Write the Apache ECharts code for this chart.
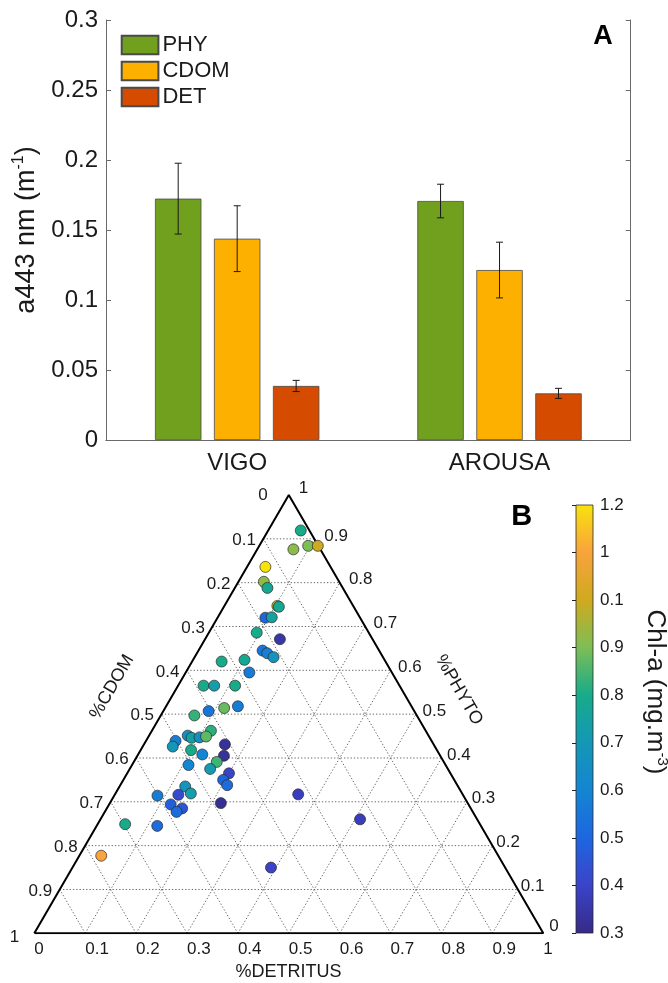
<!DOCTYPE html>
<html><head><meta charset="utf-8">
<script src="https://cdn.jsdelivr.net/npm/echarts/dist/echarts.min.js"></script>
<style>html,body{margin:0;padding:0;background:#fff}#c{width:668px;height:983px}</style>
</head><body><div id="c"></div>
<script>
// ---------- Panel A data ----------
const categories = ['VIGO', 'AROUSA'];
const seriesNames = ['PHY', 'CDOM', 'DET'];
const phyMean  = [0.1724, 0.1707];
const phyErr   = [0.0253, 0.0120];
const cdomMean = [0.1438, 0.1214];
const cdomErr  = [0.0235, 0.0199];
const detMean  = [0.0386, 0.0333];
const detErr   = [0.0040, 0.0036];

// ---------- Panel B data (ternary fractions, Chl-a) ----------
const pctPhyto = [0.919,0.876,0.884,0.884,0.836,0.802,0.788,0.747,0.745,0.720,
  0.721,0.686,0.671,0.645,0.639,0.630,0.620,0.624,0.595,0.565,
  0.565,0.565,0.514,0.518,0.507,0.497,0.462,0.439,0.426,0.451,
  0.446,0.447,0.449,0.418,0.408,0.431,0.405,0.391,0.384,0.375,
  0.365,0.350,0.338,0.335,0.319,0.316,0.314,0.294,0.285,0.277,
  0.297,0.317,0.260,0.249,0.245,0.177,0.150];
const pctDetritus = [0.064,0.071,0.096,0.115,0.036,0.050,0.064,0.104,0.108,0.094,
  0.106,0.094,0.147,0.126,0.138,0.155,0.058,0.101,0.125,0.050,
  0.071,0.112,0.116,0.141,0.089,0.066,0.116,0.058,0.059,0.076,
  0.086,0.101,0.113,0.099,0.126,0.159,0.170,0.163,0.111,0.158,
  0.200,0.196,0.210,0.129,0.148,0.125,0.085,0.121,0.148,0.141,
  0.218,0.360,0.510,0.054,0.119,0.043,0.390];
const chla = [0.80,0.92,0.90,1.00,1.20,0.92,0.78,0.98,0.78,0.50,
  0.75,0.80,0.35,0.55,0.58,0.68,0.80,0.78,0.57,0.80,
  0.73,0.80,0.88,0.57,0.55,0.83,0.82,0.58,0.70,0.65,
  0.75,0.65,0.87,0.80,0.60,0.33,0.33,0.84,0.60,0.72,
  0.40,0.50,0.52,0.68,0.73,0.42,0.58,0.48,0.45,0.52,
  0.32,0.38,0.38,0.80,0.52,1.10,0.40];

const ternTicks = [0,0.1,0.2,0.3,0.4,0.5,0.6,0.7,0.8,0.9,1];
const ternTickLabels = ['0','0.1','0.2','0.3','0.4','0.5','0.6','0.7','0.8','0.9','1'];
const cbTicks = [0.3,0.4,0.5,0.6,0.7,0.8,0.9,1.0,1.1,1.2];
const cbLabels = ['0.3','0.4','0.5','0.6','0.7','0.8','0.9','0.1','1','1.2'];
const cbColors = ['#352A87','#3B43C9','#1E66E0','#1485D2','#1497B6','#17AB8A','#7DBE55','#CFAA1F','#F8A33C','#F9E20C'];

// ---------- styling ----------
const FF = "'Liberation Sans', Arial, Helvetica, sans-serif";
const TXT = '#1a1a1a';
const AX = '#6a6a6a';
const barColors = ['#71A01F', '#FDB000', '#D54C00'];
const BAR_W = 0.177, BAR_GAP = 0.27;

const means = [phyMean, cdomMean, detMean];
const errs = [phyErr, cdomErr, detErr];

const errData = [];
for (let s = 0; s < 3; s++) for (let c = 0; c < categories.length; c++) errData.push([c, means[s][c], errs[s][c], s]);

// ternary grid lines
const gridLines = [];
ternTicks.slice(1, -1).forEach(k => {
  gridLines.push([k / 2, k, 1 - k / 2, k]);
  gridLines.push([k, 0, (1 + k) / 2, 1 - k]);
  gridLines.push([1 - k, 0, (1 - k) / 2, 1 - k]);
});

// ternary tick labels
const ternLabels = [];
ternTicks.forEach((k, i) => {
  const t = ternTickLabels[i];
  ternLabels.push({pos: [k, 0], text: t, dx: 0, dy: 16, align: 'left'});
  let dxL = -7.5, dyL = 1.5;
  if (i === 0) { dxL = -21; dyL = 0; }
  if (i === ternTicks.length - 1) { dxL = -15; dyL = 4; }
  ternLabels.push({pos: [(1 - k) / 2, 1 - k], text: t, dx: dxL, dy: dyL, align: 'right'});
  let dxR = 2 + 9 * k, dyR = -3;
  if (i === 0) { dxR = 6; dyR = -7; }
  if (i === ternTicks.length - 1) { dxR = 10; dyR = -7; }
  ternLabels.push({pos: [1 - k / 2, k], text: t, dx: dxR, dy: dyR, align: 'left'});
});

const scatterData = pctPhyto.map((p, i) => [pctDetritus[i] + p / 2, p, chla[i]]);

const chart = echarts.init(document.getElementById('c'), null, {renderer: 'canvas'});

const barSeries = seriesNames.map((n, s) => ({
  name: n, type: 'bar', xAxisIndex: 0, yAxisIndex: 0,
  data: means[s], barWidth: (BAR_W * 100) + '%', barGap: (BAR_GAP * 100) + '%',
  itemStyle: {color: barColors[s], borderColor: '#4a4a4a', borderWidth: 0.8},
  emphasis: {disabled: true}, silent: true
}));

const option = {
  animation: false,
  backgroundColor: '#fff',
  textStyle: {fontFamily: FF},
  grid: [
    {left: 106, top: 20, width: 524.7, height: 420},
    {left: 34.3, top: 495, width: 509, height: 438.3},
    {left: 576, top: 505, width: 17, height: 428}
  ],
  legend: {
    data: seriesNames, orient: 'vertical', left: 120.7, top: 34, padding: 0,
    itemWidth: 36.7, itemHeight: 18.3, itemGap: 4, icon: 'rect',
    textStyle: {fontSize: 22, color: TXT, fontFamily: FF, padding: [0, 0, 0, -1]},
    selectedMode: false
  },
  xAxis: [
    {type: 'category', gridIndex: 0, data: categories, position: 'bottom',
     axisLine: {lineStyle: {color: AX, width: 1}},
     axisTick: {inside: true, alignWithLabel: true, length: 5, lineStyle: {color: AX}},
     axisLabel: {fontSize: 24, color: TXT, margin: 11, fontFamily: FF}},
    {type: 'category', gridIndex: 0, data: categories, position: 'top',
     axisLine: {lineStyle: {color: AX, width: 1}},
     axisTick: {inside: true, alignWithLabel: true, length: 5, lineStyle: {color: AX}},
     axisLabel: {show: false}},
    {type: 'value', gridIndex: 1, min: 0, max: 1, show: false},
    {type: 'value', gridIndex: 2, min: 0, max: 1, show: false}
  ],
  yAxis: [
    {type: 'value', gridIndex: 0, min: 0, max: 0.3, interval: 0.05,
     name: '{n|a443 nm (m}{s|-1}{n|)}', nameLocation: 'middle', nameGap: 58, nameRotate: 90,
     nameTextStyle: {rich: {n: {fontSize: 27, color: TXT, fontFamily: FF, lineHeight: 32},
                            s: {fontSize: 16, color: TXT, fontFamily: FF, verticalAlign: 'top', lineHeight: 19}}},
     axisLine: {show: true, lineStyle: {color: AX, width: 1}},
     axisTick: {show: true, inside: true, length: 5, lineStyle: {color: AX}},
     axisLabel: {fontSize: 24, color: TXT, margin: 8, fontFamily: FF},
     splitLine: {show: false}},
    {type: 'value', gridIndex: 0, min: 0, max: 0.3, interval: 0.05, position: 'right',
     axisLine: {show: true, lineStyle: {color: AX, width: 1}},
     axisTick: {show: true, inside: true, length: 5, lineStyle: {color: AX}},
     axisLabel: {show: false}, splitLine: {show: false}},
    {type: 'value', gridIndex: 1, min: 0, max: 1, show: false},
    {type: 'value', gridIndex: 2, min: 0.3, max: 1.2, interval: 0.1, position: 'right',
     axisLine: {show: false},
     axisTick: {show: true, inside: true, length: 4, lineStyle: {color: '#222', width: 1}},
     axisLabel: {fontSize: 17, color: TXT, margin: 7, fontFamily: FF,
                 formatter: v => cbLabels[Math.round((v - 0.3) * 10)]},
     splitLine: {show: false}}
  ],
  visualMap: {
    show: false, type: 'continuous', min: 0.3, max: 1.2, dimension: 2, seriesIndex: 6,
    inRange: {color: cbColors}
  },
  series: [
    ...barSeries,
    { // error bars
      type: 'custom', xAxisIndex: 0, yAxisIndex: 0, data: errData, z: 5, silent: true,
      renderItem: (params, api) => {
        const ci = api.value(0), v = api.value(1), e = api.value(2), si = api.value(3);
        const band = api.size([1, 0])[0];
        const bw = band * BAR_W, gap = bw * BAR_GAP;
        const off = (si - 1) * (bw + gap);
        const pt = api.coord([ci, v + e]), pb = api.coord([ci, v - e]);
        const x = pt[0] + off, cw = 3.5;
        const st = {stroke: '#1a1a1a', lineWidth: 1};
        return {type: 'group', children: [
          {type: 'line', shape: {x1: x, y1: pt[1], x2: x, y2: pb[1]}, style: st},
          {type: 'line', shape: {x1: x - cw, y1: pt[1], x2: x + cw, y2: pt[1]}, style: st},
          {type: 'line', shape: {x1: x - cw, y1: pb[1], x2: x + cw, y2: pb[1]}, style: st}
        ]};
      }
    },
    { // ternary dotted grid
      type: 'custom', xAxisIndex: 2, yAxisIndex: 2, data: gridLines, silent: true, z: 1,
      renderItem: (params, api) => {
        const p1 = api.coord([api.value(0), api.value(1)]);
        const p2 = api.coord([api.value(2), api.value(3)]);
        return {type: 'line', shape: {x1: p1[0], y1: p1[1], x2: p2[0], y2: p2[1]},
                style: {stroke: '#666', lineWidth: 1, lineDash: [1.3, 2]}};
      }
    },
    { // triangle frame
      type: 'line', xAxisIndex: 2, yAxisIndex: 2, data: [[0, 0], [1, 0], [0.5, 1], [0, 0]],
      symbol: 'none', lineStyle: {color: '#000', width: 2}, silent: true, z: 2
    },
    { // points
      type: 'scatter', xAxisIndex: 2, yAxisIndex: 2, data: scatterData, symbolSize: 11, z: 4,
      itemStyle: {borderColor: '#2a2a2a', borderWidth: 0.7, opacity: 1}, silent: true
    },
    { // ternary tick labels
      type: 'custom', xAxisIndex: 2, yAxisIndex: 2, data: ternLabels.map(l => l.pos), silent: true, z: 3,
      renderItem: (params, api) => {
        const l = ternLabels[params.dataIndex];
        const p = api.coord([api.value(0), api.value(1)]);
        return {type: 'text', x: p[0] + l.dx, y: p[1] + l.dy,
                style: {text: l.text, fill: TXT, fontSize: 17, fontFamily: FF, align: l.align, verticalAlign: 'middle'}};
      }
    },
    { // colorbar
      type: 'custom', xAxisIndex: 3, yAxisIndex: 3, data: [[0, cbTicks[cbTicks.length - 1], 1, cbTicks[0]]], silent: true, z: 1,
      renderItem: (params, api) => {
        const a = api.coord([api.value(0), api.value(1)]);
        const b = api.coord([api.value(2), api.value(3)]);
        const stops = cbColors.map((c, i) => ({offset: 1 - i / (cbColors.length - 1), color: c}));
        stops.sort((m, n) => m.offset - n.offset);
        return {type: 'rect', shape: {x: a[0], y: a[1], width: b[0] - a[0], height: b[1] - a[1]},
                style: {fill: {type: 'linear', x: 0, y: 0, x2: 0, y2: 1, colorStops: stops, global: false},
                        stroke: '#2a2a2a', lineWidth: 0.8}};
      }
    }
  ],
  graphic: [
    {type: 'text', x: 603, y: 37, style: {text: 'A', fontSize: 27, fontWeight: 'bold', fill: '#000', fontFamily: FF, align: 'center', verticalAlign: 'middle'}},
    {type: 'text', x: 521.7, y: 517, style: {text: 'B', fontSize: 29, fontWeight: 'bold', fill: '#000', fontFamily: FF, align: 'center', verticalAlign: 'middle'}},
    {type: 'text', x: 288.5, y: 972, style: {text: '%DETRITUS', fontSize: 18, fill: TXT, fontFamily: FF, align: 'center', verticalAlign: 'middle'}},
    {type: 'text', x: 112, y: 687, rotation: Math.PI / 3, style: {text: '%CDOM', fontSize: 18, fill: TXT, fontFamily: FF, align: 'center', verticalAlign: 'middle'}},
    {type: 'text', x: 459, y: 690, rotation: -Math.PI / 3, style: {text: '%PHYTO', fontSize: 18, fill: TXT, fontFamily: FF, align: 'center', verticalAlign: 'middle'}},
    {type: 'text', x: 655, y: 692, rotation: -Math.PI / 2,
     style: {text: '{n|Chl-a (mg.m}{s|-3}{n|)}', align: 'center', verticalAlign: 'middle',
             rich: {n: {fontSize: 26, fill: TXT, fontFamily: FF, lineHeight: 30},
                    s: {fontSize: 15, fill: TXT, fontFamily: FF, verticalAlign: 'top', lineHeight: 17}}}}
  ]
};
chart.setOption(option);
</script>
</body></html>
